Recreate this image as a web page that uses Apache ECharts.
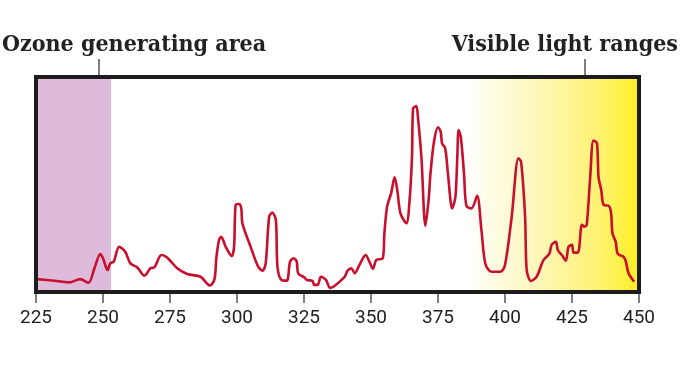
<!DOCTYPE html>
<html>
<head>
<meta charset="utf-8">
<script src="https://cdn.jsdelivr.net/npm/echarts@6/dist/echarts.min.js"></script>
<style>html,body{margin:0;padding:0;background:#fff}#c{width:680px;height:380px}</style>
</head>
<body>
<div id="c"></div>
<script>
const xTicks = [225, 250, 275, 300, 325, 350, 375, 400, 425, 450];
const ozoneRange = [225, 253];
const visibleRange = [385, 450];
const wavelength = [225.5, 230, 237.7, 241.5, 244.6, 246.8, 249, 250, 251.7, 252.7, 254, 256, 258.3, 260.2, 262.7, 265.5, 267.7, 269.2, 271.8, 273.9, 277.7, 281.4, 286.4, 289.9, 291.6, 292.3, 293.3, 294.1, 295.8, 298, 298.9, 299.5, 300.7, 301.6, 302, 305.1, 307.9, 309.5, 310.7, 312, 313.2, 314.5, 315.1, 316.6, 318.6, 319.8, 321.1, 322.3, 322.8, 325.1, 326.1, 328.2, 328.8, 330.1, 331.3, 333.2, 334.8, 340, 341.3, 342.7, 343.9, 345.7, 348, 349.4, 350.7, 352, 354.4, 355, 356, 357.5, 358.8, 359.8, 361, 363.2, 364.4, 365.3, 365.7, 366.9, 367.5, 368.8, 370.3, 371.5, 372.2, 373.5, 375, 376, 376.5, 377.7, 378.7, 380.3, 381.5, 382.2, 382.7, 383.5, 384.7, 385.6, 387.5, 389.6, 391.2, 392.7, 395, 398.3, 400, 402.5, 405, 406, 407.5, 408.1, 409.7, 411.8, 414.4, 416.5, 417.4, 419, 419.7, 421.2, 422.7, 423.7, 425, 425.6, 427.2, 428.7, 429.7, 430.5, 431.8, 433, 434.3, 434.9, 435.9, 436.8, 438.8, 439.6, 440.1, 441.3, 442.1, 444.2, 445.1, 446.1, 448.2];
const intensity = [6.0, 5.5, 4.5, 6.0, 4.3, 11, 17.7, 15.7, 10.2, 13.3, 14.1, 21, 18.7, 13.3, 11.5, 7.6, 11, 11.5, 17.2, 16.1, 11, 8.4, 7.1, 3.0, 6, 16, 24.2, 25.7, 21, 16.7, 21, 40.5, 40.9, 38.9, 32, 21, 11.8, 9.9, 13.3, 35, 36.9, 33.5, 11.8, 5.6, 5.3, 14.1, 15.7, 14.1, 8.7, 6.8, 5.6, 5.1, 3.3, 3.3, 7.1, 5.6, 1.9, 6.8, 10, 11, 8.7, 12.6, 17.2, 14.1, 10.8, 14.9, 15.7, 27.3, 39.7, 45.9, 53.3, 47.4, 36.6, 32, 42.8, 62.9, 85.4, 86.5, 81.5, 62.9, 30.7, 42.8, 55.2, 69.9, 76.6, 74.6, 69.2, 66.8, 55.2, 38.9, 44.3, 62.9, 75.3, 72.2, 55.2, 40, 38.9, 44.7, 28.8, 13, 9.4, 9.4, 12.6, 35, 62.2, 60.6, 35, 10.2, 5.1, 7.1, 14.9, 17.7, 21.9, 23.4, 19.5, 17.2, 14.6, 21, 21.9, 18.3, 18.3, 31.2, 30.4, 31.2, 53.6, 70.4, 69.2, 53.6, 47.4, 40.5, 40, 36.6, 27.3, 23.4, 17.7, 16.4, 14.1, 8.7, 4.8];
const ozoneLabel = 'Ozone generating area';
const visibleLabel = 'Visible light ranges';

const chart = echarts.init(document.getElementById('c'), null, {renderer: 'canvas'});
const seriesData = wavelength.map((w, i) => [w, intensity[i]]);
const titleFont = '"DejaVu Serif Condensed", "DejaVu Serif", serif';
const G = {left: 36, right: 41, top: 77, bottom: 88};

chart.setOption({
  animation: false,
  backgroundColor: '#ffffff',
  grid: {left: G.left, right: G.right, top: G.top, bottom: G.bottom, show: false},
  xAxis: {
    type: 'value', min: xTicks[0], max: xTicks[xTicks.length - 1], interval: 25,
    axisLine: {show: false},
    axisTick: {show: true, length: 11, lineStyle: {color: '#555', width: 1.5}},
    axisLabel: {color: '#222', fontSize: 19, fontFamily: 'Roboto', margin: 17},
    splitLine: {show: false}
  },
  yAxis: {type: 'value', min: 0, max: 100, show: false, splitLine: {show: false}},
  series: [{
    type: 'line', data: seriesData, smooth: 0.3, symbol: 'none',
    lineStyle: {color: '#c8102e', width: 2.6}, z: 5,
    markArea: {
      silent: true,
      data: [
        [{xAxis: ozoneRange[0], itemStyle: {color: '#dfbbdb'}}, {xAxis: ozoneRange[1]}],
        [{xAxis: visibleRange[0], itemStyle: {color: new echarts.graphic.LinearGradient(0, 0, 1, 0, [
          {offset: 0, color: 'rgba(255,255,255,1)'},
          {offset: 0.45, color: '#fdf6b4'},
          {offset: 0.8, color: '#fff26a'},
          {offset: 1, color: '#ffee22'}
        ])}}, {xAxis: visibleRange[1]}]
      ]
    }
  }],
  graphic: [
    {type: 'rect', z: 100, shape: {x: G.left, y: G.top, width: 680 - G.left - G.right, height: 380 - G.top - G.bottom},
     style: {fill: 'none', stroke: '#1c1c1c', lineWidth: 4}},
    {type: 'text', left: 2, top: 34, style: {text: ozoneLabel, font: 'bold 23px ' + titleFont, fill: '#222'}},
    {type: 'text', right: 2, top: 34, style: {text: visibleLabel, font: 'bold 23px ' + titleFont, fill: '#222'}},
    {type: 'line', shape: {x1: 99, y1: 59, x2: 99, y2: 75}, style: {stroke: '#555', lineWidth: 1.5}},
    {type: 'line', shape: {x1: 585, y1: 59, x2: 585, y2: 75}, style: {stroke: '#555', lineWidth: 1.5}}
  ]
});
</script>
</body>
</html>
